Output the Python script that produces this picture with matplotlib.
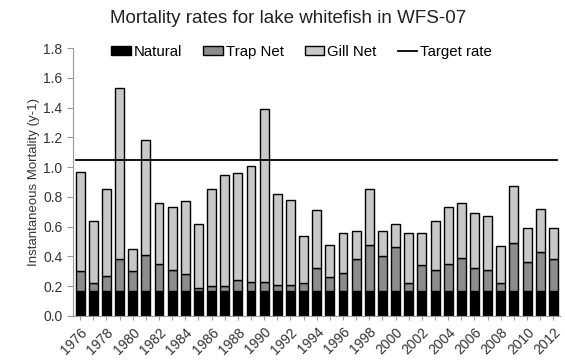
import matplotlib
matplotlib.use("Agg")
import matplotlib.pyplot as plt
import numpy as np

plt.rcParams['font.family'] = ['Liberation Sans', 'DejaVu Sans']

years = list(range(1976, 2013))
natural = [0.17] * 37
# cumulative tops
trap_top = [0.30, 0.22, 0.27, 0.38, 0.30, 0.41, 0.35, 0.31, 0.28, 0.19,
            0.20, 0.20, 0.24, 0.23, 0.23, 0.21, 0.21, 0.22, 0.32, 0.26,
            0.29, 0.38, 0.48, 0.40, 0.46, 0.22, 0.34, 0.31, 0.35, 0.39,
            0.32, 0.31, 0.22, 0.49, 0.36, 0.43, 0.38]
total = [0.97, 0.64, 0.85, 1.53, 0.45, 1.18, 0.76, 0.73, 0.77, 0.62,
         0.85, 0.95, 0.96, 1.01, 1.39, 0.82, 0.78, 0.54, 0.71, 0.48,
         0.56, 0.57, 0.85, 0.57, 0.62, 0.56, 0.56, 0.64, 0.73, 0.76,
         0.69, 0.67, 0.47, 0.87, 0.59, 0.72, 0.59]
trap = [t - n for t, n in zip(trap_top, natural)]
gill = [tot - t for tot, t in zip(total, trap_top)]
target_rate = 1.05

fig = plt.figure(figsize=(5.65, 3.64), dpi=100)
ax = fig.add_axes([0.129, 0.132, 0.862, 0.736])
x = np.arange(len(years))
w = 0.68
b1 = ax.bar(x, natural, w, color='black', edgecolor='black', linewidth=1.0, label='Natural')
b2 = ax.bar(x, trap, w, bottom=natural, color='#8c8c8c', edgecolor='black', linewidth=1.0, label='Trap Net')
b3 = ax.bar(x, gill, w, bottom=trap_top, color='#c8c8c8', edgecolor='black', linewidth=1.0, label='Gill Net')
ln, = ax.plot([-0.3, 36.3], [target_rate, target_rate], color='black', linewidth=1.3, label='Target rate')

ax.set_xlim(-0.55, 36.5)
ax.set_ylim(0, 1.8)
ax.set_yticks(np.arange(0, 1.81, 0.2))
ax.set_yticklabels([f"{v:.1f}" for v in np.arange(0, 1.81, 0.2)], fontsize=10, color='#333333')
ax.set_xticks(x)
ax.set_xticklabels([str(y) if (y - 1976) % 2 == 0 else '' for y in years], rotation=45,
                   ha='right', rotation_mode='anchor', fontsize=10, color='#333333')
ax.tick_params(axis='x', length=3, color='#999999')
ax.tick_params(axis='y', length=4, color='#999999')
for s in ['top', 'right']:
    ax.spines[s].set_visible(False)
ax.spines['left'].set_color('#999999')
ax.spines['bottom'].set_color('#999999')
ax.set_ylabel('Instantaneous Mortality (y-1)', fontsize=9.5, color='#333333', labelpad=2)
fig.text(0.51, 0.95, 'Mortality rates for lake whitefish in WFS-07', fontsize=13.5, color='#222222',
         ha='center', va='center')
leg = ax.legend([b1, b2, b3, ln], ['Natural', 'Trap Net', 'Gill Net', 'Target rate'],
                loc='upper center', ncol=4, frameon=False, fontsize=10.8, bbox_to_anchor=(0.47, 1.035),
                handlelength=1.3, handleheight=0.6, handletextpad=0.2, columnspacing=1.4, borderaxespad=0)
fig.savefig('out.png', dpi=100)
